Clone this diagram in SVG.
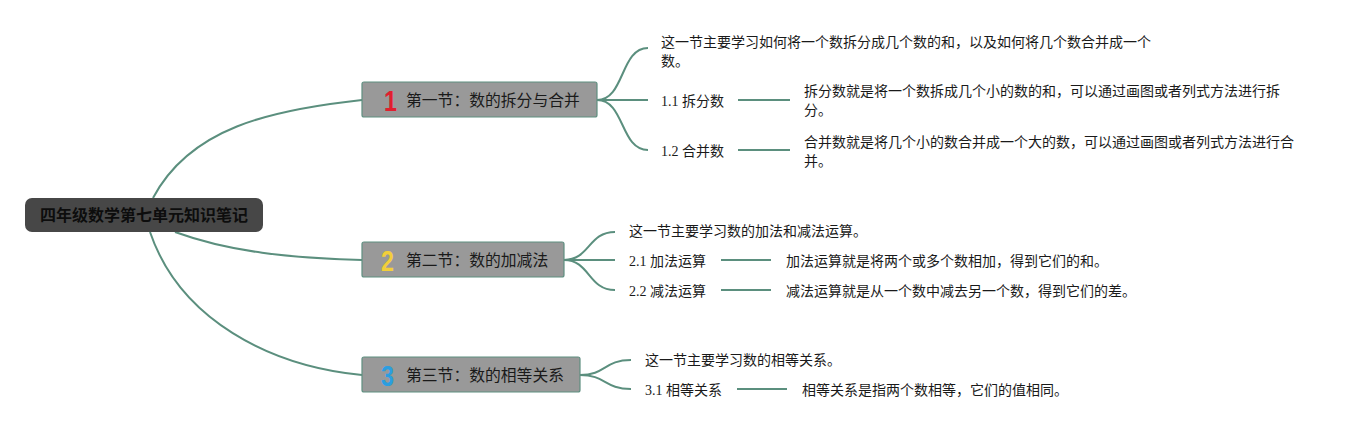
<svg xmlns="http://www.w3.org/2000/svg" width="1364" height="430" viewBox="0 0 1364 430">
<style>
.c{fill:none;stroke:#5b8f7e;stroke-width:2}
.sec rect{fill:#999999;stroke:#5f8f80;stroke-width:1.2}
.st{font-family:"Noto Sans CJK SC",sans-serif;font-size:15.8px;fill:#1a1a1a}
.num{font-family:"Liberation Sans",sans-serif;font-weight:bold;font-size:29px}
.t{font-family:"Liberation Serif","Noto Sans CJK SC",sans-serif;font-size:14px;fill:#1a1a1a}
</style>
<rect width="1364" height="430" fill="#ffffff"/>
<g id="connectors">
<path class="c" d="M153 198 C190 128 270 110 362 100"/>
<path class="c" d="M175 232 C230 252 290 258 362 260"/>
<path class="c" d="M150 232 C180 320 270 366 362 375"/>
<path class="c" d="M597 100 C625 100 620 48 648 48"/>
<path class="c" d="M597 100 L648 100"/>
<path class="c" d="M597 100 C625 100 620 150 648 150"/>
<path class="c" d="M738 100 L790 100"/>
<path class="c" d="M738 150 L790 150"/>
<path class="c" d="M564 260 C590 260 588 232 615 232"/>
<path class="c" d="M564 260 L615 260"/>
<path class="c" d="M564 260 C590 260 588 290 615 290"/>
<path class="c" d="M721 260 L771 260"/>
<path class="c" d="M721 290 L771 290"/>
<path class="c" d="M580 375 C606 375 604 360 631 360"/>
<path class="c" d="M580 375 C606 375 604 389 631 389"/>
<path class="c" d="M737 389 L787 389"/>
</g>
<g id="root">
<rect x="25" y="198" width="238" height="34" rx="7" fill="#474747"/>
<text x="144" y="221" text-anchor="middle" font-family="Noto Sans CJK SC,sans-serif" font-weight="bold" font-size="16px" fill="#0d0d0d">四年级数学第七单元知识笔记</text>
</g>
<g id="sec1" class="sec">
<rect x="362" y="82" width="235" height="35" rx="2"/>
<text class="num" transform="translate(384 111) scale(0.8 1)" fill="#e01f2f">1</text>
<text class="st" x="406" y="106">第一节：数的拆分与合并</text>
</g>
<g id="sec2" class="sec">
<rect x="362" y="242" width="202" height="35" rx="2"/>
<text class="num" transform="translate(381 271) scale(0.8 1)" fill="#f2cf3a">2</text>
<text class="st" x="406" y="266">第二节：数的加减法</text>
</g>
<g id="sec3" class="sec">
<rect x="362" y="357" width="218" height="35" rx="2"/>
<text class="num" transform="translate(381 386) scale(0.8 1)" fill="#2b9ee0">3</text>
<text class="st" x="406" y="381">第三节：数的相等关系</text>
</g>
<g id="s1-intro"><text class="t" x="661" y="47">这一节主要学习如何将一个数拆分成几个数的和，以及如何将几个数合并成一个</text><text class="t" x="661" y="66">数。</text></g>
<g id="s1-1"><text class="t" x="661" y="106">1.1 拆分数</text></g>
<g id="s1-1-d"><text class="t" x="804" y="96">拆分数就是将一个数拆成几个小的数的和，可以通过画图或者列式方法进行拆</text><text class="t" x="804" y="115">分。</text></g>
<g id="s1-2"><text class="t" x="661" y="156">1.2 合并数</text></g>
<g id="s1-2-d"><text class="t" x="804" y="147">合并数就是将几个小的数合并成一个大的数，可以通过画图或者列式方法进行合</text><text class="t" x="804" y="166">并。</text></g>
<g id="s2-intro"><text class="t" x="629" y="236">这一节主要学习数的加法和减法运算。</text></g>
<g id="s2-1"><text class="t" x="629" y="266">2.1 加法运算</text></g>
<g id="s2-1-d"><text class="t" x="786" y="266">加法运算就是将两个或多个数相加，得到它们的和。</text></g>
<g id="s2-2"><text class="t" x="629" y="296">2.2 减法运算</text></g>
<g id="s2-2-d"><text class="t" x="786" y="296">减法运算就是从一个数中减去另一个数，得到它们的差。</text></g>
<g id="s3-intro"><text class="t" x="645" y="365">这一节主要学习数的相等关系。</text></g>
<g id="s3-1"><text class="t" x="645" y="395">3.1 相等关系</text></g>
<g id="s3-1-d"><text class="t" x="802" y="395">相等关系是指两个数相等，它们的值相同。</text></g>
</svg>
